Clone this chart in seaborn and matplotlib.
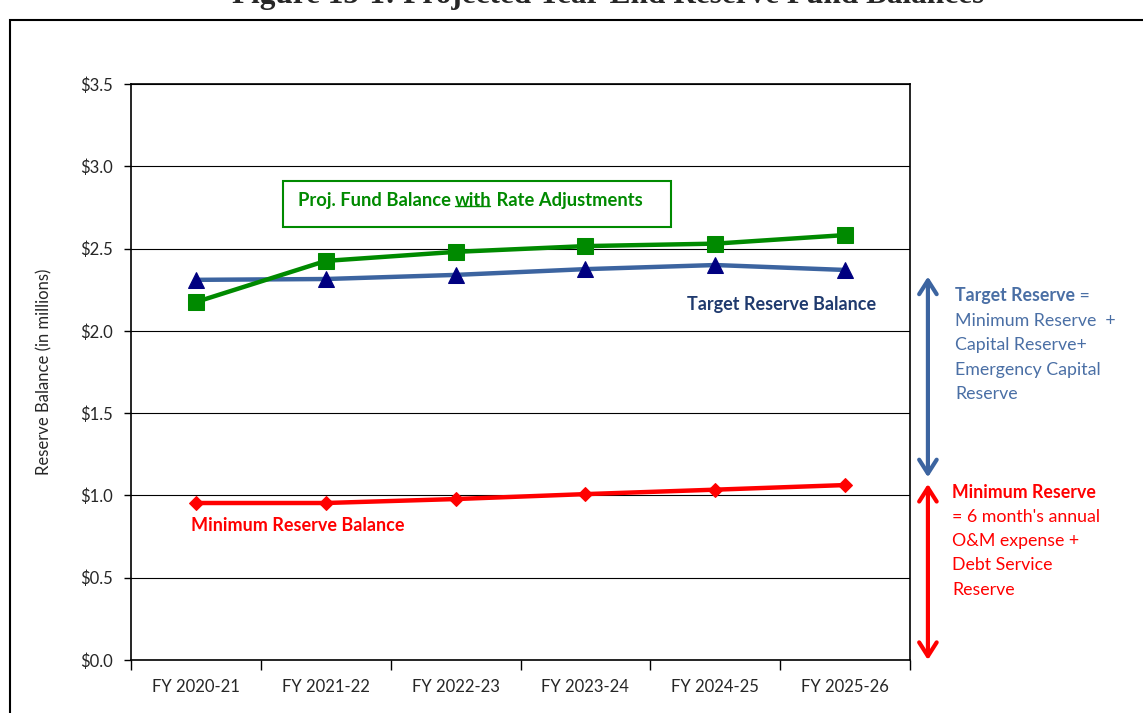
import numpy as np
import pandas as pd
import matplotlib.pyplot as plt
import matplotlib.transforms as mtransforms
from matplotlib.patches import Rectangle
from matplotlib.lines import Line2D
import seaborn as sns

# Data (in $ millions)
years = ['FY 2020-21', 'FY 2021-22', 'FY 2022-23', 'FY 2023-24', 'FY 2024-25', 'FY 2025-26']
proj_balance = [2.175, 2.425, 2.48, 2.515, 2.53, 2.582]
target_balance = [2.31, 2.315, 2.34, 2.375, 2.40, 2.37]
minimum_balance = [0.954, 0.954, 0.978, 1.008, 1.035, 1.063]
y_ticks = [0.0, 0.5, 1.0, 1.5, 2.0, 2.5, 3.0, 3.5]

GREEN = '#008A00'
BLUE_LINE = '#3C64A0'
NAVY = '#000080'
NAVY_TEXT = '#1F3A6E'
BLUE_TEXT = '#4A6FA5'
RED = '#FF0000'

sns.set_style('white')
plt.rcParams['font.family'] = ['Lato', 'DejaVu Sans']

fig = plt.figure(figsize=(11.43, 7.13), dpi=100)
ax = fig.add_axes([131 / 1143, 1 - 660 / 713, 779 / 1143, 576 / 713])

# series
sns.lineplot(x=years, y=target_balance, ax=ax, color=BLUE_LINE, linewidth=3.2,
             marker='^', markersize=12, markerfacecolor=NAVY, markeredgecolor=NAVY, zorder=3)
sns.lineplot(x=years, y=proj_balance, ax=ax, color=GREEN, linewidth=3.2,
             marker='s', markersize=11, markerfacecolor=GREEN, markeredgecolor=GREEN, zorder=4)
sns.lineplot(x=years, y=minimum_balance, ax=ax, color=RED, linewidth=3.2,
             marker='D', markersize=7, markerfacecolor=RED, markeredgecolor=RED, zorder=4)

# axes styling
ax.set_xlim(-0.5, len(years) - 0.5)
ax.set_ylim(0, 3.5)
ax.set_yticks(y_ticks)
ax.set_yticklabels(['${:.1f}'.format(v) for v in y_ticks], fontsize=12)
ax.set_xticks(range(len(years)))
ax.set_xticklabels(years, fontsize=12)
ax.set_xticks(np.arange(-0.5, len(years), 1.0), minor=True)
ax.tick_params(axis='x', which='major', length=0, pad=14)
ax.tick_params(axis='x', which='minor', length=7, width=1, direction='out', color='black', bottom=True)
ax.tick_params(axis='y', length=5, width=1, direction='out', color='black', left=True, pad=8)
ax.grid(axis='y', color='black', linewidth=0.8)
ax.grid(axis='x', visible=False)
for s in ax.spines.values():
    s.set_color('black')
    s.set_linewidth(1.2)
ax.set_xlabel('')
ax.set_ylabel('Reserve Balance (in millions)', fontsize=12, labelpad=20)

# inline labels
btrans = mtransforms.blended_transform_factory(ax.transAxes, ax.transData)
ax.text(0.835, 2.163, 'Target Reserve Balance', transform=btrans,
        ha='center', va='center', fontsize=13, fontweight='bold', color=NAVY_TEXT)
ax.text(0.077, 0.815, 'Minimum Reserve Balance', transform=btrans,
        ha='left', va='center', fontsize=13, fontweight='bold', color=RED)

# green boxed label with underlined "with"
box = Rectangle((0.195, 0.752), 0.498, 0.080, transform=ax.transAxes, fill=True,
                facecolor='white', edgecolor=GREEN, linewidth=1.5, zorder=5)
ax.add_patch(box)
t1 = ax.text(0.214, 0.797, 'Proj. Fund Balance ', transform=ax.transAxes, ha='left', va='center',
             fontsize=13.2, fontweight='bold', color=GREEN, zorder=6)
t2 = ax.annotate('with', xy=(1, 0), xycoords=t1, va='bottom', ha='left',
                 fontsize=13.2, fontweight='bold', color=GREEN, zorder=6)
t3 = ax.annotate(' Rate Adjustments', xy=(1, 0), xycoords=t2, va='bottom', ha='left',
                 fontsize=13.2, fontweight='bold', color=GREEN, zorder=6)
fig.canvas.draw()
bb = t2.get_window_extent().transformed(fig.transFigure.inverted())
fig.add_artist(Line2D([bb.x0, bb.x1 - 0.002], [bb.y0 + 0.005, bb.y0 + 0.005], transform=fig.transFigure,
                      color=GREEN, linewidth=1))

# right-side double arrows and notes
arrow_style = '<->, head_length=0.55, head_width=0.35'
ax.annotate('', xy=(1.023, 2.33), xytext=(1.023, 1.11), xycoords=btrans, textcoords=btrans,
            arrowprops=dict(arrowstyle=arrow_style, color=BLUE_LINE, lw=3, mutation_scale=18,
                            shrinkA=0, shrinkB=0), annotation_clip=False)
ax.annotate('', xy=(1.023, 1.07), xytext=(1.023, 0.0), xycoords=btrans, textcoords=btrans,
            arrowprops=dict(arrowstyle=arrow_style, color=RED, lw=3, mutation_scale=18,
                            shrinkA=0, shrinkB=0), annotation_clip=False)

line_h = 24.5 / 713
x_note = 955 / 1143
y0 = 1 - 296 / 713
tr = fig.text(x_note, y0, 'Target Reserve', fontsize=12.8, fontweight='bold', color=BLUE_TEXT, va='center')
fig.canvas.draw()
tb = tr.get_window_extent().transformed(fig.transFigure.inverted())
fig.text(tb.x1, y0, ' =', fontsize=12.8, color=BLUE_TEXT, va='center')
for i, line in enumerate(['Minimum Reserve  +', 'Capital Reserve+', 'Emergency Capital', 'Reserve']):
    fig.text(x_note, y0 - (i + 1) * line_h, line, fontsize=12.8, color=BLUE_TEXT, va='center')

x_note2 = 952 / 1143
y1 = 1 - 492 / 713
fig.text(x_note2, y1, 'Minimum Reserve', fontsize=12.8, fontweight='bold', color=RED, va='center')
for i, line in enumerate(["= 6 month's annual", 'O&M expense +', 'Debt Service', 'Reserve']):
    fig.text(x_note2, y1 - (i + 1) * line_h, line, fontsize=12.8, color=RED, va='center')

# outer frame and clipped title (the reference shows only its lower edge)
fig.add_artist(Rectangle((10 / 1143, -0.05), 1.1, 1 - 20 / 713 + 0.05, transform=fig.transFigure,
                         fill=False, edgecolor='black', linewidth=1.5))
fig.text(0.532, 1 - 3 / 713, 'Figure 15-1: Projected Year-End Reserve Fund Balances',
         fontsize=22.5, family='Liberation Serif', fontweight='bold', ha='center', va='baseline')

fig.savefig('out.png', dpi=100)
